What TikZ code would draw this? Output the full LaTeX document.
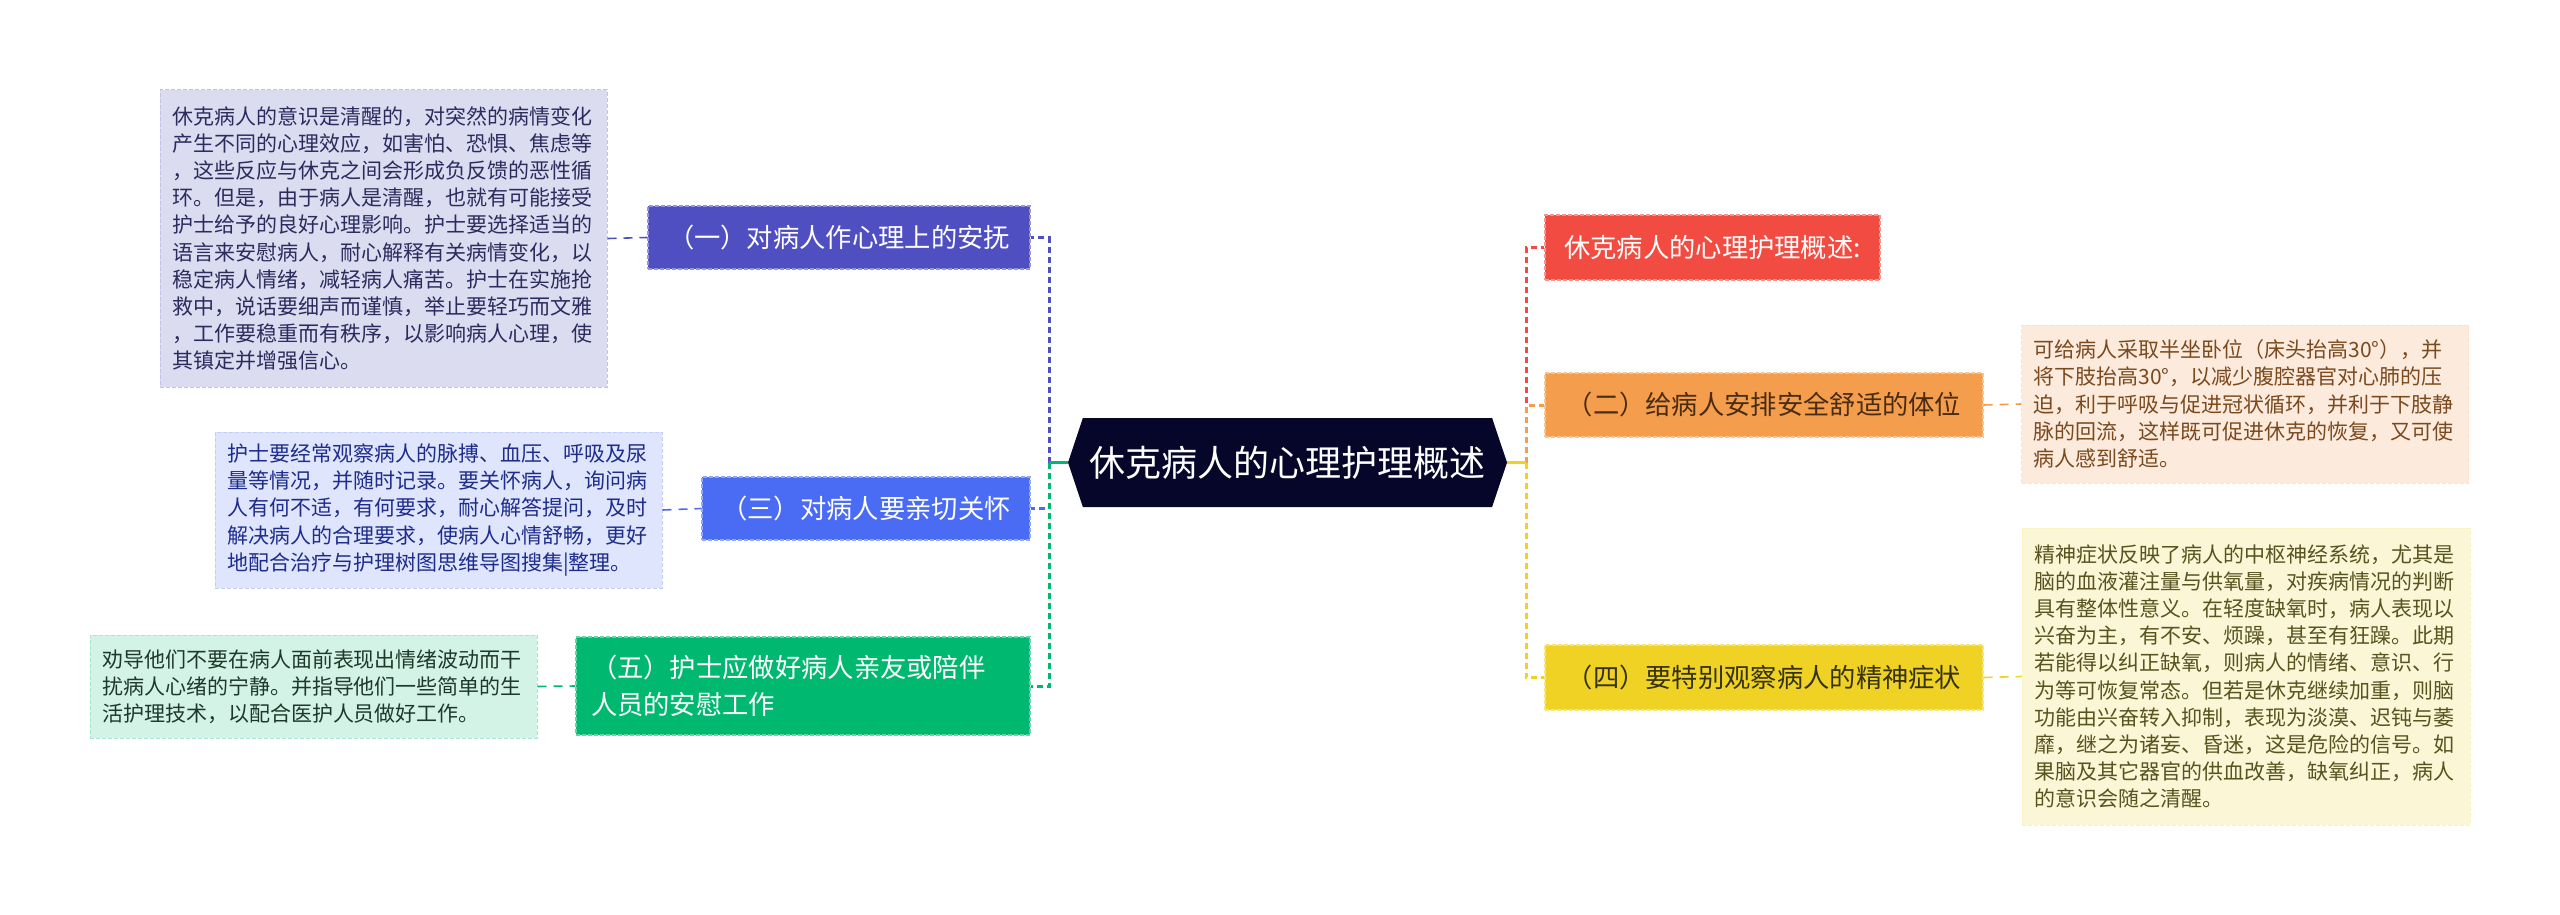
\documentclass[tikz,border=0pt]{standalone}
\usepackage{fontspec}
\setmainfont{Noto Sans CJK SC}
\usetikzlibrary{shapes.symbols}

\definecolor{hubc}{HTML}{06062A}
\definecolor{purp}{HTML}{4F4FC2}
\definecolor{purpl}{HTML}{DCDCF1}
\definecolor{purpt}{HTML}{2B2B5E}
\definecolor{blu}{HTML}{4A6CF5}
\definecolor{blul}{HTML}{DEE5FD}
\definecolor{blut}{HTML}{1E2C8C}
\definecolor{grn}{HTML}{00B870}
\definecolor{grnl}{HTML}{D2F3E6}
\definecolor{grnt}{HTML}{20382C}
\definecolor{redc}{HTML}{F24C42}
\definecolor{org}{HTML}{F49D4D}
\definecolor{orgl}{HTML}{FCEADD}
\definecolor{orgt}{HTML}{7A4A1E}
\definecolor{yel}{HTML}{F0D224}
\definecolor{yell}{HTML}{FBF6D6}
\definecolor{yelt}{HTML}{58531F}

\tikzset{
  topic/.style={inner sep=0pt, minimum height=63, text=white,
    font=\fontsize{26.3}{37}\selectfont, line width=1.2, dash pattern=on 4 off 2},
  note/.style={inner xsep=12, inner ysep=0pt, minimum width=447, text width=423,
    align=left, font=\fontsize{21}{27.2}\selectfont, line width=1, dash pattern=on 4 off 2},
  trunk/.style={line width=3, dash pattern=on 6 off 4},
  twig/.style={line width=1.6, dash pattern=on 9 off 7},
}

\begin{document}
\begin{tikzpicture}[x=1pt,y=-1pt]
\useasboundingbox[fill=white] (0,0) rectangle (2560,915);

% centre
\node[shape=signal, signal to=west and east, signal pointer angle=143,
  fill=hubc, text=white, inner sep=0pt, minimum width=439, minimum height=89,
  font=\fontsize{36}{40}\selectfont] (hub) at (1287.5,462.5) {休克病人的心理护理概述};
\coordinate (lt) at (1049,462.5);
\coordinate (rt) at (1526,462.5);

% left branches
\node[topic, fill=purp, draw=purp!60!white, minimum width=382] (n1) at (839,237.5) {（一）对病人作心理上的安抚};
\node[topic, fill=blu, draw=blu!60!white, minimum width=328] (n3) at (866,508.5) {（三）对病人要亲切关怀};
\node[topic, fill=grn, draw=grn!60!white, minimum height=98, inner xsep=15, text width=424,
  align=left] (n5) at (803,686) {（五）护士应做好病人亲友或陪伴\\人员的安慰工作};

\node[note, fill=purpl, draw=purp!35!white, text=purpt, minimum height=297] (d1) at (383.5,238.5)
  {休克病人的意识是清醒的，对突然的病情变化\\产生不同的心理效应，如害怕、恐惧、焦虑等\\，这些反应与休克之间会形成负反馈的恶性循\\环。但是，由于病人是清醒，也就有可能接受\\护士给予的良好心理影响。护士要选择适当的\\语言来安慰病人，耐心解释有关病情变化，以\\稳定病人情绪，减轻病人痛苦。护士在实施抢\\救中，说话要细声而谨慎，举止要轻巧而文雅\\，工作要稳重而有秩序，以影响病人心理，使\\其镇定并增强信心。};
\node[note, fill=blul, draw=blu!35!white, text=blut, minimum height=156] (d3) at (438.5,510)
  {护士要经常观察病人的脉搏、血压、呼吸及尿\\量等情况，并随时记录。要关怀病人，询问病\\人有何不适，有何要求，耐心解答提问，及时\\解决病人的合理要求，使病人心情舒畅，更好\\地配合治疗与护理树图思维导图搜集|整理。};
\node[note, fill=grnl, draw=grn!35!white, text=grnt, minimum height=103] (d5) at (313.5,686.5)
  {劝导他们不要在病人面前表现出情绪波动而干\\扰病人心绪的宁静。并指导他们一些简单的生\\活护理技术，以配合医护人员做好工作。};

% right branches
\node[topic, fill=redc, draw=redc!60!white, minimum width=335, minimum height=65] (n0) at (1712.5,247.5) {休克病人的心理护理概述:};
\node[topic, fill=org, draw=org!60!white, text=orgt!60!black, minimum width=438, minimum height=64] (n2) at (1764,405) {（二）给病人安排安全舒适的体位};
\node[topic, fill=yel, draw=yel!60!white, text=yelt!60!black, minimum width=438, minimum height=65] (n4) at (1764,677.5) {（四）要特别观察病人的精神症状};

\node[note, fill=orgl, draw=org!30!white, text=orgt, minimum width=446, minimum height=158] (d2) at (2245,404)
  {可给病人采取半坐卧位（床头抬高30°），并\\将下肢抬高30°，以减少腹腔器官对心肺的压\\迫，利于呼吸与促进冠状循环，并利于下肢静\\脉的回流，这样既可促进休克的恢复，又可使\\病人感到舒适。};
\node[note, fill=yell, draw=yel!30!white, text=yelt, minimum width=448, minimum height=297] (d4) at (2246,676.5)
  {精神症状反映了病人的中枢神经系统，尤其是\\脑的血液灌注量与供氧量，对疾病情况的判断\\具有整体性意义。在轻度缺氧时，病人表现以\\兴奋为主，有不安、烦躁，甚至有狂躁。此期\\若能得以纠正缺氧，则病人的情绪、意识、行\\为等可恢复常态。但若是休克继续加重，则脑\\功能由兴奋转入抑制，表现为淡漠、迟钝与萎\\靡，继之为诸妄、昏迷，这是危险的信号。如\\果脑及其它器官的供血改善，缺氧纠正，病人\\的意识会随之清醒。};

% connectors
\draw[trunk, purp] (lt) |- (n1.east);
\draw[trunk, blu] (lt) |- (n3.east);
\draw[trunk, grn] (lt) |- (n5.east);
\draw[line width=3, grn] (hub.west) -- (lt);
\draw[trunk, redc] (rt) |- (n0.west);
\draw[trunk, org] (rt) |- (n2.west);
\draw[trunk, yel] (rt) |- (n4.west);
\draw[line width=3, yel] (hub.east) -- (rt);

\draw[twig, purp] (d1.east) -- (n1.west);
\draw[twig, blu] (d3.east) -- (n3.west);
\draw[twig, grn] (d5.east) -- (n5.west);
\draw[twig, org] (n2.east) -- (d2.west);
\draw[twig, yel] (n4.east) -- (d4.west);
\end{tikzpicture}
\end{document}
